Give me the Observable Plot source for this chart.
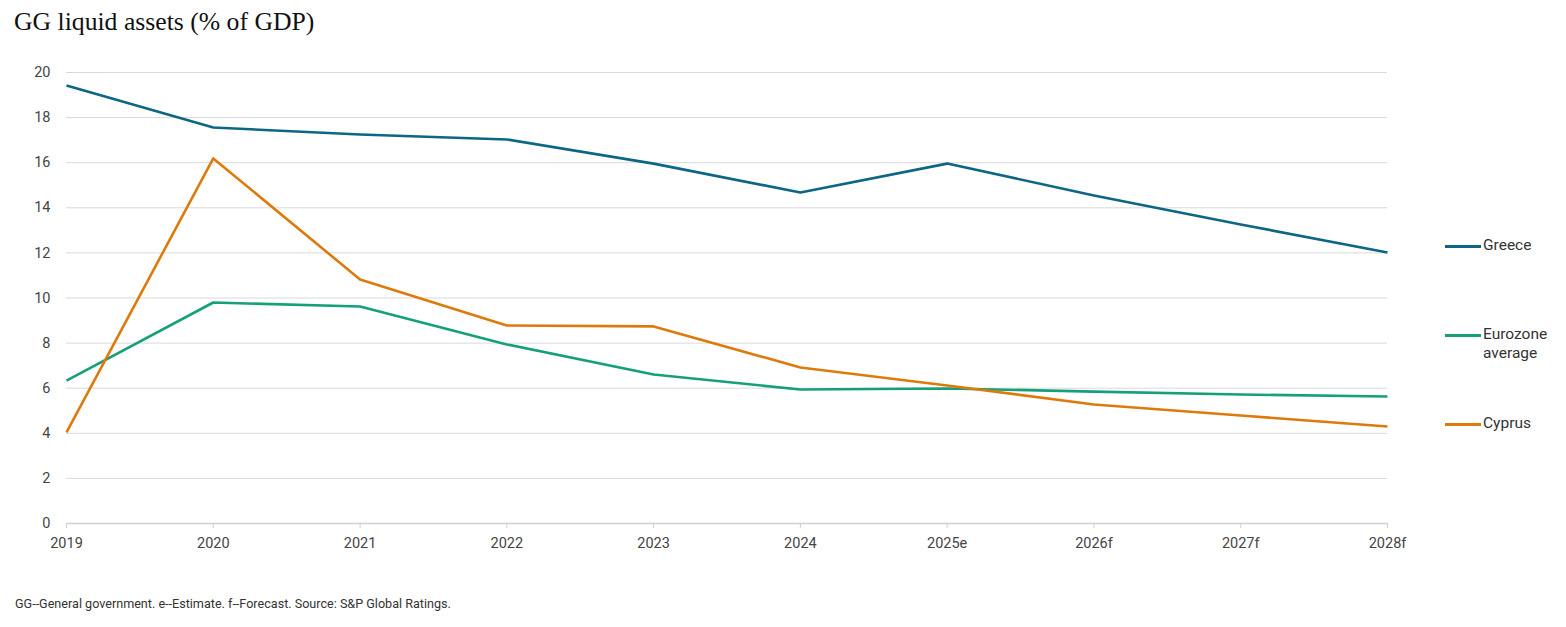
<!DOCTYPE html>
<html>
<head>
<meta charset="utf-8">
<script src="https://cdn.jsdelivr.net/npm/d3@7"></script>
<script src="https://cdn.jsdelivr.net/npm/@observablehq/plot@0.6"></script>
<style>
  body { margin: 0; background: #fff; width: 1566px; height: 627px; overflow: hidden; position: relative; font-family: Roboto, "Liberation Sans", sans-serif; }
  #title { position: absolute; left: 14px; top: 7px; font-family: "Liberation Serif", "DejaVu Serif", serif; font-size: 25.7px; color: #111; }
  #chart { position: absolute; left: 0; top: 45px; }
  #note { position: absolute; left: 15px; top: 596px; font-size: 12.6px; color: #333; }
  .leg { position: absolute; font-size: 15.5px; color: #333; line-height: 19px; }
  .leg .sw { position: absolute; left: -38px; top: 9px; width: 36px; height: 3px; }
</style>
</head>
<body>
<div id="title">GG liquid assets (% of GDP)</div>
<div id="chart"></div>
<div id="note">GG--General government. e--Estimate. f--Forecast. Source: S&amp;P Global Ratings.</div>
<script>
const years = ["2019","2020","2021","2022","2023","2024","2025e","2026f","2027f","2028f"];
const greece   = [19.42, 17.56, 17.25, 17.03, 15.96, 14.68, 15.96, 14.55, 13.26, 12.02];
const eurozone = [6.34, 9.80, 9.62, 7.94, 6.61, 5.94, 5.99, 5.85, 5.72, 5.63];
const cyprus   = [4.04, 16.19, 10.82, 8.78, 8.74, 6.92, 6.12, 5.28, 4.79, 4.30];
const seriesNames = ["Greece", "Eurozone average", "Cyprus"];
const seriesColors = ["#0d6784", "#16a07a", "#de7a0c"];
const yTicks = [0, 2, 4, 6, 8, 10, 12, 14, 16, 18, 20];

const data = [];
[greece, eurozone, cyprus].forEach((vals, si) => {
  vals.forEach((v, i) => data.push({series: seriesNames[si], year: years[i], value: v}));
});

const chart = Plot.plot({
  width: 1566,
  height: 540,
  marginTop: 27,
  marginBottom: 62,
  marginLeft: 66,
  marginRight: 179,
  style: { fontFamily: "Roboto, 'Liberation Sans', sans-serif", fontSize: "14.5px", color: "#444", background: "transparent" },
  x: { type: "point", domain: years, padding: 0, round: false, label: null },
  y: { domain: [0, 20], label: null },
  color: { domain: seriesNames, range: seriesColors },
  marks: [
    Plot.gridY(yTicks, { stroke: "#d9d9d9", strokeOpacity: 1, strokeWidth: 1 }),
    Plot.ruleY([0], { stroke: "#d0d0d0", strokeWidth: 1.5 }),
    Plot.axisY(yTicks, { tickSize: 0, tickPadding: 4, dx: -12, label: null, fill: "#444", fontSize: 14.5 }),
    Plot.axisX(years, { tickSize: 5, stroke: "#d0d0d0", tickPadding: 9, label: null, fill: "#444", fontSize: 14.5 }),
    Plot.line(data, { x: "year", y: "value", z: "series", stroke: "series", strokeWidth: 2.6, strokeLinejoin: "round", strokeLinecap: "butt" })
  ]
});
document.getElementById("chart").appendChild(chart);

// legend to the right, HTML overlay
const legendTops = [236, 325, 414];
seriesNames.forEach((name, i) => {
  const d = document.createElement("div");
  d.className = "leg";
  d.style.left = "1483px";
  d.style.top = legendTops[i] + "px";
  d.style.width = "80px";
  const sw = document.createElement("span");
  sw.className = "sw";
  sw.style.background = seriesColors[i];
  d.appendChild(sw);
  const words = name === "Eurozone average" ? ["Eurozone", "average"] : [name];
  words.forEach((w, k) => {
    if (k) d.appendChild(document.createElement("br"));
    d.appendChild(document.createTextNode(w));
  });
  document.body.appendChild(d);
});
</script>
</body>
</html>
